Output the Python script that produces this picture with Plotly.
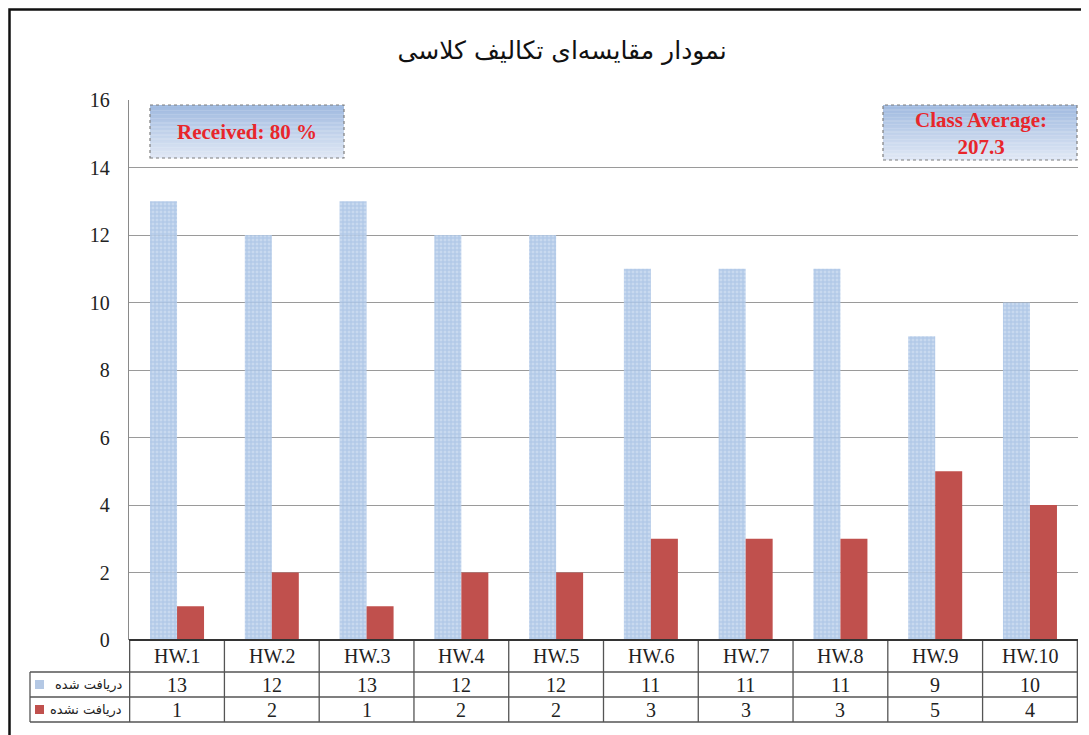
import plotly.graph_objects as go

categories = ["HW.1", "HW.2", "HW.3", "HW.4", "HW.5", "HW.6", "HW.7", "HW.8", "HW.9", "HW.10"]
received = [13, 12, 13, 12, 12, 11, 11, 11, 9, 10]
not_received = [1, 2, 1, 2, 2, 3, 3, 3, 5, 4]
series_names = ["دریافت شده", "دریافت نشده"]
title_text = "نمودار مقایسه‌ای تکالیف کلاسی"
received_label = "Received: 80 %"
average_label = "Class Average:<br>207.3"

OFF = 8  # page body margin
W, H = 1089 - OFF, 735 - OFF
L, R, T, B = 129 - OFF, 11, 100 - OFF, 95
PW, PH = W - L - R, H - T - B

def px(x):
    return (x - OFF - L) / PW

def py(y):
    return (H - B - (y - OFF)) / PH

blue = "#b4c8e4"
red = "#c0504d"
serif = "Liberation Serif, Times New Roman, serif"
fa = "DejaVu Sans, Noto Sans, sans-serif"

fig = go.Figure()
fig.add_trace(go.Bar(
    x=categories, y=received, name=series_names[0],
    marker=dict(color="rgba(170,196,230,0.9)",
                pattern=dict(shape="+", fgcolor="#8fb0db", bgcolor="rgba(190,210,236,0.85)", size=4, solidity=0.45),
                line=dict(width=0)),
    showlegend=False))
fig.add_trace(go.Bar(
    x=categories, y=not_received, name=series_names[1],
    marker=dict(color=red, line=dict(width=0)), showlegend=False))

shapes = []
ann = []
grid_col = "#555555"

# outer frame
shapes.append(dict(type="rect", xref="paper", yref="paper", x0=px(9.5), x1=px(1100), y0=py(760), y1=py(9.5),
                   line=dict(color="#111", width=2.5), fillcolor="rgba(0,0,0,0)", layer="above"))

# data table lines
for yy in [672, 697, 722]:
    shapes.append(dict(type="line", xref="paper", yref="paper", x0=px(30), x1=px(1078), y0=py(yy), y1=py(yy),
                       line=dict(color=grid_col, width=1.3)))
shapes.append(dict(type="line", xref="paper", yref="paper", x0=px(30), x1=px(30), y0=py(672), y1=py(722),
                   line=dict(color=grid_col, width=1.3)))
for i in range(len(categories) + 1):
    shapes.append(dict(type="line", xref="x", yref="paper", x0=i - 0.5, x1=i - 0.5, y0=py(640), y1=py(722),
                       line=dict(color=grid_col, width=1.3)))
shapes.append(dict(type="line", xref="paper", yref="paper", x0=px(129), x1=px(1078), y0=0, y1=0,
                   line=dict(color="#333", width=2)))

tfont = dict(family=serif, size=20, color="#222")
# table texts
for i, c in enumerate(categories):
    for val, yy in [(c, 656), (str(received[i]), 684.5), (str(not_received[i]), 709.5)]:
        ann.append(dict(x=c, xref="x", y=py(yy), yref="paper", text=val, showarrow=False,
                        xanchor="center", yanchor="middle", font=tfont))

# legend keys in table
for name, yy, col in [(series_names[0], 684.5, blue), (series_names[1], 709.5, red)]:
    ann.append(dict(x=px(124), xref="paper", y=py(yy), yref="paper", text=name, showarrow=False,
                    xanchor="right", yanchor="middle", font=dict(family=fa, size=13, color="#222")))
    shapes.append(dict(type="rect", xref="paper", yref="paper", x0=px(35), x1=px(44), y0=py(yy + 4.5), y1=py(yy - 4.5),
                       fillcolor=col, line=dict(width=0)))

# gradient boxes
def grad_box(x0, x1, y0, y1):
    n = 40
    top = (160, 186, 224)
    bot = (224, 232, 245)
    for k in range(n):
        t = k / (n - 1)
        c = tuple(int(top[j] + (bot[j] - top[j]) * t) for j in range(3))
        ya = y0 + (y1 - y0) * k / n
        yb = y0 + (y1 - y0) * (k + 1) / n + 0.3
        shapes.append(dict(type="rect", xref="paper", yref="paper", x0=px(x0), x1=px(x1), y0=py(yb), y1=py(ya),
                           fillcolor="rgb(%d,%d,%d)" % c, line=dict(width=0), layer="above"))
    shapes.append(dict(type="rect", xref="paper", yref="paper", x0=px(x0), x1=px(x1), y0=py(y1), y1=py(y0),
                       fillcolor="rgba(0,0,0,0)", line=dict(color="#7f7f7f", width=1.2, dash="dot"), layer="above"))

grad_box(150, 344, 105, 158)
grad_box(883, 1077, 105, 160)
ann.append(dict(x=px(247), xref="paper", y=py(132), yref="paper", text="<b>%s</b>" % received_label, showarrow=False,
                xanchor="center", yanchor="middle", font=dict(family=serif, size=21, color="#e8262b")))
ann.append(dict(x=px(981), xref="paper", y=py(133), yref="paper", text="<b>%s</b>" % average_label, showarrow=False,
                xanchor="center", yanchor="middle", font=dict(family=serif, size=21, color="#e8262b")))

fig.update_layout(
    width=W, height=H,
    margin=dict(l=L, r=R, t=T, b=B),
    paper_bgcolor="white", plot_bgcolor="white",
    title=dict(text=title_text, x=(562 - OFF) / W, xanchor="center", y=1 - (50 - OFF) / H, yanchor="middle",
               font=dict(family=fa, size=25, color="#111")),
    barmode="group", bargap=0.43, bargroupgap=0,
    shapes=shapes, annotations=ann,
    xaxis=dict(showticklabels=False, showgrid=False, ticks="", showline=False, zeroline=False),
    yaxis=dict(range=[0, 16], dtick=2, showgrid=True, gridcolor="#9a9a9a", gridwidth=1.3,
               showline=True, linecolor="#8a8a8a", linewidth=1.3, zeroline=False, ticks="",
               ticklabelstandoff=14, tickfont=dict(family=serif, size=20, color="#222")),
)

fig.write_html("out.html")
